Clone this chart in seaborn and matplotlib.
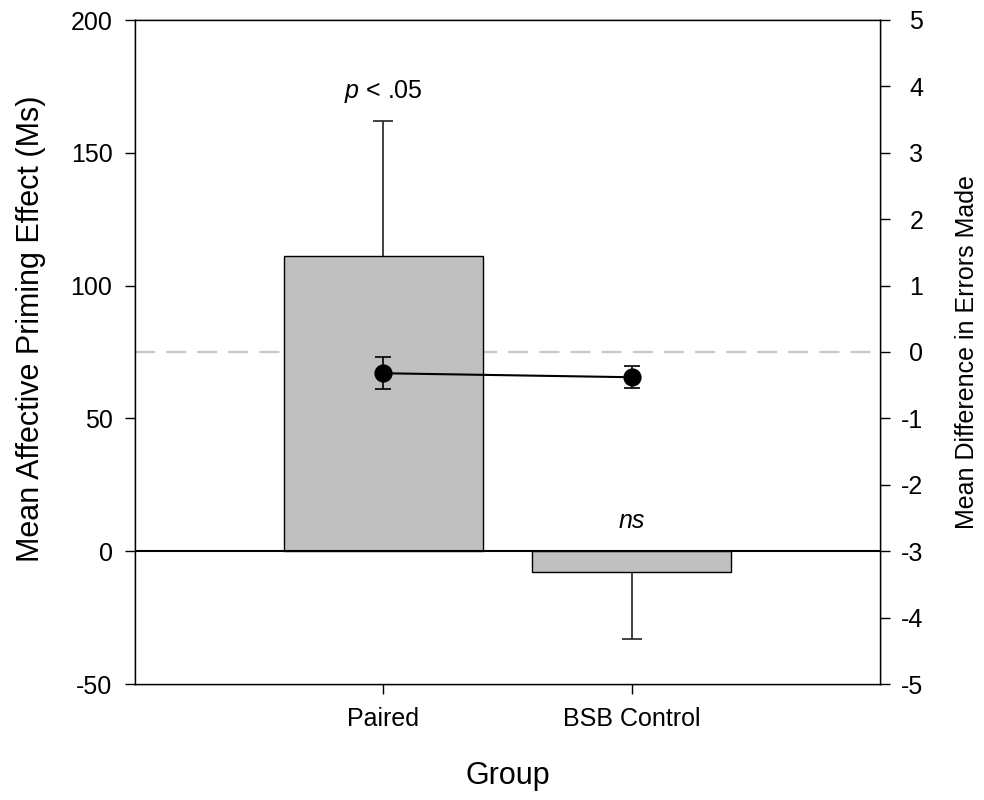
import matplotlib
matplotlib.use("Agg")
import matplotlib.pyplot as plt
import matplotlib.transforms as mtransforms
import seaborn as sns
import pandas as pd
import numpy as np

# ---- data ----
groups = ["Paired", "BSB Control"]
priming_means = [111, -8]          # ms (left axis)
priming_err_up = [51, 0]           # upper error only for Paired
priming_err_down = [0, 25]         # lower error only for BSB Control
error_diff_means = [-0.32, -0.38]  # right axis
error_diff_sem = [0.24, 0.165]
annotations = [r"$p$ < .05", "ns"]
annot_style = ["normal", "italic"]
annot_y = [173, 11.5]
left_ticks = [-50, 0, 50, 100, 150, 200]
right_ticks = [-5, -4, -3, -2, -1, 0, 1, 2, 3, 4, 5]

sns.set_style("ticks")
plt.rcParams["font.family"] = ["Liberation Sans", "DejaVu Sans"]
plt.rcParams["axes.unicode_minus"] = False
plt.rcParams["mathtext.fontset"] = "custom"
plt.rcParams["mathtext.it"] = "Liberation Sans:italic"
plt.rcParams["mathtext.rm"] = "Liberation Sans"
for k in ["text.color", "axes.labelcolor", "xtick.color", "ytick.color",
          "axes.edgecolor"]:
    plt.rcParams[k] = "black"

fig = plt.figure(figsize=(9.84, 8.0), dpi=100)
ax = fig.add_axes([135 / 984, 116 / 800, 745 / 984, 664 / 800])

df = pd.DataFrame({"Group": groups, "Priming": priming_means})
sns.barplot(data=df, x="Group", y="Priming", ax=ax, color="#C0C0C0",
            saturation=1, width=0.8, errorbar=None, edgecolor="black",
            linewidth=1.0)
for b in ax.patches:
    b.set_facecolor("#C0C0C0")
    b.set_zorder(3)

xpos = np.arange(len(groups))
for i in range(len(groups)):
    _, caps, _ = ax.errorbar([xpos[i]], [priming_means[i]],
                             yerr=[[priming_err_down[i]], [priming_err_up[i]]],
                             fmt="none", ecolor="#222222", elinewidth=1.2,
                             capsize=7.2, capthick=1.2, zorder=2)
    lower_cap, upper_cap = caps
    if priming_err_down[i] == 0:
        lower_cap.remove()
    if priming_err_up[i] == 0:
        upper_cap.remove()
ax.axhline(0, color="black", lw=1.5, zorder=4)

ax.set_ylim(-50, 200)
ax.set_yticks(left_ticks)
ax.set_xlim(-1, 2)
ax.set_xticks(xpos)
ax.set_xticklabels(groups)
ax.set_xlabel("Group", fontsize=22, labelpad=22)
ax.set_ylabel("Mean Affective Priming Effect (Ms)", fontsize=22)
ax.yaxis.set_label_coords(-0.12, 0.535)
ax.tick_params(axis="both", direction="out", length=7.2, width=1.0,
               labelsize=18, pad=9, color="black")

for t, st, xv, yv in zip(annotations, annot_style, xpos, annot_y):
    ax.text(xv, yv, t, ha="center", va="center", fontsize=18,
            style=st, zorder=6)

# ---- right axis ----
ax2 = ax.twinx()
ax2.set_ylim(-5, 5)
ax2.set_xlim(-1, 2)
# dashed reference line at right-axis zero, drawn behind the bars
trans = mtransforms.blended_transform_factory(ax.transAxes, ax2.transData)
ax.plot([0, 1], [0, 0], transform=trans, color="#C8C8C8", lw=1.6,
        dashes=(9, 5), zorder=1)

dfp = pd.DataFrame({"Group": groups, "Diff": error_diff_means})
ax3 = ax.twinx()
sns.pointplot(data=dfp, x="Group", y="Diff", ax=ax3, color="black",
              markers="o", errorbar=None, linewidth=1.5, markersize=12)
ax3.errorbar(xpos, error_diff_means, yerr=error_diff_sem, fmt="none",
             ecolor="black", elinewidth=1.2, capsize=5.8, capthick=1.2)
ax3.set_ylim(-5, 5)
ax3.set_xlim(-1, 2)
ax3.axis("off")
ax.set_zorder(1)
ax2.set_zorder(0)
ax3.set_zorder(2)
ax.patch.set_visible(True)
ax.patch.set_facecolor("white")
ax2.patch.set_visible(False)

ax2.set_yticks(right_ticks)
ax2.set_yticklabels([str(v) for v in right_ticks], ha="right")
ax2.tick_params(axis="y", direction="out", length=7.2, width=1.0,
                labelsize=18, pad=24, color="black")
ax2.set_ylabel("Mean Difference in Errors Made", fontsize=18)
ax2.yaxis.set_label_coords(1.10, 0.5)

for a in (ax, ax2):
    for s in a.spines.values():
        s.set_visible(True)
        s.set_color("black")
        s.set_linewidth(1.0)
ax.set_xlim(-1, 2)

fig.savefig("out.png", dpi=100)
